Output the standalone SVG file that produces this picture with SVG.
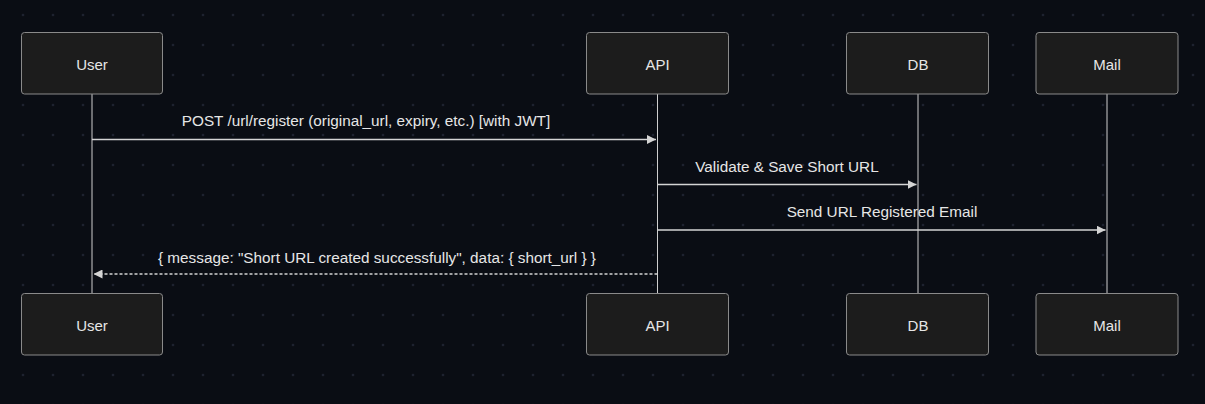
<svg xmlns="http://www.w3.org/2000/svg" width="1205" height="404" viewBox="0 0 1205 404">
<defs>
<pattern id="dots" x="23" y="15" width="30" height="30" patternUnits="userSpaceOnUse">
<circle cx="0" cy="0" r="1.3" fill="#1e2230"/>
<circle cx="30" cy="0" r="1.3" fill="#1e2230"/>
<circle cx="0" cy="30" r="1.3" fill="#1e2230"/>
<circle cx="30" cy="30" r="1.3" fill="#1e2230"/>
</pattern>
<marker id="arrow" viewBox="0 0 10 10" refX="10" refY="5" markerWidth="9" markerHeight="9" markerUnits="userSpaceOnUse" orient="auto">
<path d="M0,0 L10,5 L0,10 z" fill="#d4d4d4"/>
</marker>
<style>
.actor rect{fill:#1c1c1c;stroke:#8a8a8a;stroke-width:1}
.actor text{fill:#e6e6e6;font-family:"Liberation Sans",Arial,sans-serif;font-size:15px;text-anchor:middle;dominant-baseline:central}
.life{stroke:#cfcfcf;stroke-width:1}
.msg{stroke:#d4d4d4;stroke-width:1.3;fill:none}
.dash{stroke-dasharray:3,2}
.label{fill:#e6e6e6;font-family:"Liberation Sans",Arial,sans-serif;font-size:15.3px;text-anchor:middle}
</style>
</defs>
<rect width="1205" height="404" fill="#0a0d14"/>
<rect width="1205" height="404" fill="url(#dots)"/>
<g id="lifelines">
<line class="life" x1="92" y1="94" x2="92" y2="294"/>
<line class="life" x1="657.5" y1="94" x2="657.5" y2="294"/>
<line class="life" x1="918" y1="94" x2="918" y2="294"/>
<line class="life" x1="1107" y1="94" x2="1107" y2="294"/>
</g>
<g id="user-top" class="actor"><rect x="21.5" y="32.5" width="141" height="61.5" rx="3"/><text x="92" y="64">User</text></g>
<g id="api-top" class="actor"><rect x="586.5" y="32.5" width="142" height="61.5" rx="3"/><text x="657.5" y="64">API</text></g>
<g id="db-top" class="actor"><rect x="846.5" y="32.5" width="142" height="61.5" rx="3"/><text x="918" y="64">DB</text></g>
<g id="mail-top" class="actor"><rect x="1036" y="32.5" width="142" height="61.5" rx="3"/><text x="1107" y="64">Mail</text></g>
<g id="user-bottom" class="actor"><rect x="21.5" y="293.5" width="141" height="61.5" rx="3"/><text x="92" y="325">User</text></g>
<g id="api-bottom" class="actor"><rect x="586.5" y="293.5" width="142" height="61.5" rx="3"/><text x="657.5" y="325">API</text></g>
<g id="db-bottom" class="actor"><rect x="846.5" y="293.5" width="142" height="61.5" rx="3"/><text x="918" y="325">DB</text></g>
<g id="mail-bottom" class="actor"><rect x="1036" y="293.5" width="142" height="61.5" rx="3"/><text x="1107" y="325">Mail</text></g>
<g id="connectors">
<line class="msg" x1="92" y1="139.5" x2="656" y2="139.5" marker-end="url(#arrow)"/>
<text class="label" x="366" y="126">POST /url/register (original_url, expiry, etc.) [with JWT]</text>
<line class="msg" x1="657.5" y1="184.5" x2="916.5" y2="184.5" marker-end="url(#arrow)"/>
<text class="label" x="787" y="172">Validate &amp; Save Short URL</text>
<line class="msg" x1="657.5" y1="230" x2="1105.5" y2="230" marker-end="url(#arrow)"/>
<text class="label" x="882" y="217">Send URL Registered Email</text>
<line class="msg dash" x1="657.5" y1="274" x2="93.5" y2="274" marker-end="url(#arrow)"/>
<text class="label" x="377" y="263">{ message: "Short URL created successfully", data: { short_url } }</text>
</g>
</svg>
